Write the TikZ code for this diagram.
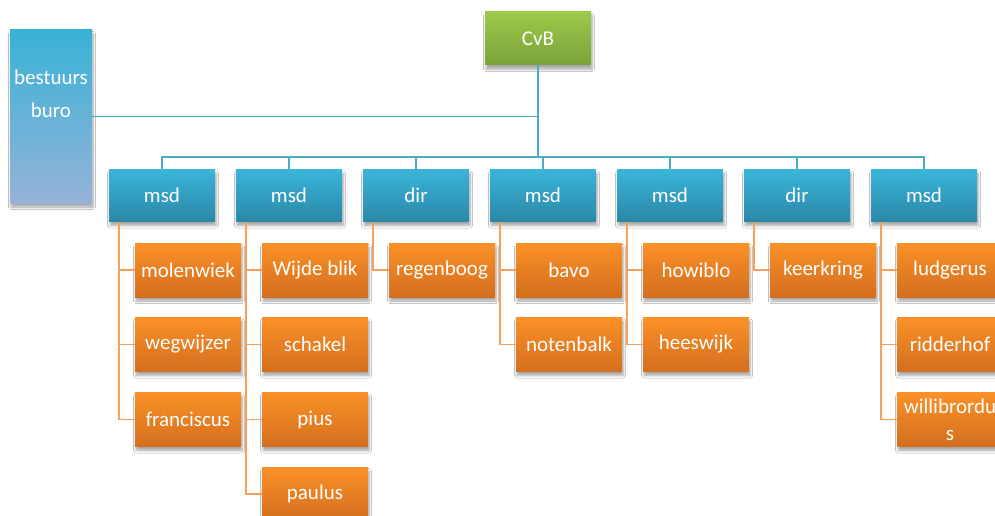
\documentclass[tikz,border=0pt]{standalone}
\usepackage{fontspec}
\setmainfont{Carlito}
\usetikzlibrary{shadows.blur,positioning}
\definecolor{btop}{HTML}{3AB4D8}
\definecolor{bbot}{HTML}{2A88A8}
\definecolor{otop}{HTML}{FA9128}
\definecolor{obot}{HTML}{D46E1E}
\definecolor{gtop}{HTML}{9DC94C}
\definecolor{gbot}{HTML}{7AA239}
\definecolor{bbtop}{HTML}{38B2D6}
\definecolor{bbbot}{HTML}{96B2D8}
\definecolor{bline}{HTML}{4BACC6}
\definecolor{oline}{HTML}{F6A05C}
\tikzset{
  boxbase/.style={rectangle, inner sep=0pt, text=white, align=center,
    font=\fontsize{21}{27}\selectfont,
    blur shadow={shadow xshift=1pt, shadow yshift=-4pt, shadow blur steps=6, shadow blur radius=2.5pt, shadow opacity=35}},
  bluebox/.style={boxbase, minimum width=106pt, minimum height=52pt, top color=btop, bottom color=bbot},
  orangebox/.style={boxbase, minimum width=106pt, minimum height=54pt, top color=otop, bottom color=obot},
  greenbox/.style={boxbase, minimum width=106pt, minimum height=53pt, top color=gtop, bottom color=gbot},
  bbbox/.style={boxbase, minimum width=82pt, minimum height=173pt, top color=bbtop, bottom color=bbbot},
  bconn/.style={draw=bline, line width=1.8pt},
  oconn/.style={draw=oline, line width=1.8pt},
}
\begin{document}
\begin{tikzpicture}[x=1pt,y=-1pt]
\useasboundingbox (0,0) rectangle (995,516);
\clip (0,0) rectangle (995,516);
\fill[white] (0,0) rectangle (995,516);
% top level
\node[greenbox] (cvb) at (538,38.5) {CvB};
\node[bbbox] (bb) at (51,116.5) {};
\node[text=white, align=center, font=\fontsize{21}{33}\selectfont] (bbtext) at (51,94) {bestuurs\\buro};
\coordinate (bus) at (538,157);
% second level
\node[bluebox] (m1) at (162,195.5) {msd};
\node[bluebox] (m2) at (289,195.5) {msd};
\node[bluebox] (d1) at (416,195.5) {dir};
\node[bluebox] (m3) at (543,195.5) {msd};
\node[bluebox] (m4) at (670,195.5) {msd};
\node[bluebox] (d2) at (797,195.5) {dir};
\node[bluebox] (m5) at (924,195.5) {msd};
% children
\node[orangebox] (c11) at (188,270) {molenwiek};
\node[orangebox] (c12) at (188,344.5) {wegwijzer};
\node[orangebox] (c13) at (188,419.5) {franciscus};
\node[orangebox] (c21) at (315,270) {Wijde blik};
\node[orangebox] (c22) at (315,344.5) {schakel};
\node[orangebox] (c23) at (315,419.5) {pius};
\node[orangebox] (c24) at (315,494) {paulus};
\node[orangebox] (c31) at (442,270) {regenboog};
\node[orangebox] (c41) at (569,270) {bavo};
\node[orangebox] (c42) at (569,344.5) {notenbalk};
\node[orangebox] (c51) at (696,270) {howiblo};
\node[orangebox] (c52) at (696,344.5) {heeswijk};
\node[orangebox] (c61) at (823,270) {keerkring};
\node[orangebox] (c71) at (950,270) {ludgerus};
\node[orangebox] (c72) at (950,344.5) {ridderhof};
\node[orangebox] (c73) at (950,419.5) {willibrordu\\s};
% blue connectors
\draw[bconn] (cvb.south) -- (bus);
\draw[bconn] (bb.east) -- (bb.east -| cvb.south);
\foreach \m in {m1,m2,d1,m3,m4,d2,m5} {
  \draw[bconn] (bus) -| (\m.north);
}
% orange connectors
\foreach \p/\c in {m1/c11,m1/c12,m1/c13,m2/c21,m2/c22,m2/c23,m2/c24,d1/c31,m3/c41,m3/c42,m4/c51,m4/c52,d2/c61,m5/c71,m5/c72,m5/c73} {
  \draw[oconn] ([xshift=10pt]\p.south west) |- (\c.west);
}
\end{tikzpicture}
\end{document}
